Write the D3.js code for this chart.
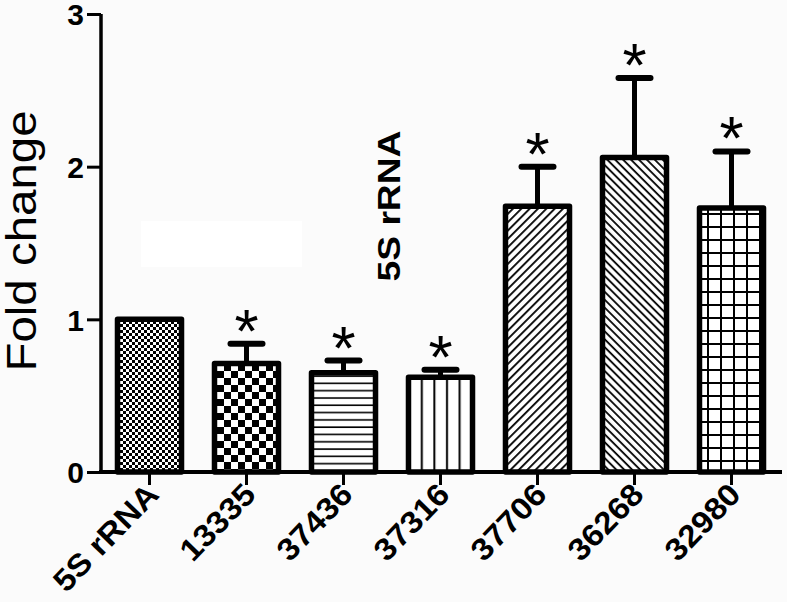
<html>
<head>
<script src="https://d3js.org/d3.v7.min.js"></script>
<style>
body { margin: 0; background: #fbfbfb; }
svg { display: block; font-family: Arial, 'Liberation Sans', sans-serif; }
</style>
</head>
<body>
<svg width="787" height="602"></svg>
<script>
// data
var categories = ["5S rRNA", "13335", "37436", "37316", "37706", "36268", "32980"];
var means = [1.00, 0.71, 0.65, 0.62, 1.74, 2.06, 1.73];
var errors = [0, 0.13, 0.08, 0.05, 0.26, 0.52, 0.37];
var starred = [false, true, true, true, true, true, true];
var fills = ["fineCheck", "bigCheck", "hLines", "vLines", "diagUp", "diagDown", "grid"];
var yTicks = [0, 1, 2, 3];

var svg = d3.select("svg");
svg.append("rect").attr("width", 787).attr("height", 602).attr("fill", "#fbfbfb");
// blank patch left over in the original image
svg.append("rect").attr("x", 141).attr("y", 221).attr("width", 161).attr("height", 46).attr("fill", "#fff");

var x = d3.scaleBand().domain(categories).range([101, 780]).paddingInner(0.34).paddingOuter(0.17);
var y = d3.scaleLinear().domain([0, 3]).range([472, 14]);

// hatch patterns
var defs = svg.append("defs");
function pat(id, w, h, transform) {
  var p = defs.append("pattern").attr("id", id).attr("patternUnits", "userSpaceOnUse")
    .attr("width", w).attr("height", h);
  if (transform) p.attr("patternTransform", transform);
  p.append("rect").attr("width", w).attr("height", h).attr("fill", "#fff");
  return p;
}
var p = pat("fineCheck", 6, 6);
p.append("rect").attr("width", 3).attr("height", 3).attr("fill", "#000");
p.append("rect").attr("x", 3).attr("y", 3).attr("width", 3).attr("height", 3).attr("fill", "#000");
p = pat("bigCheck", 14, 14);
p.append("rect").attr("width", 7).attr("height", 7).attr("fill", "#000");
p.append("rect").attr("x", 7).attr("y", 7).attr("width", 7).attr("height", 7).attr("fill", "#000");
p = pat("hLines", 10, 7.3);
p.append("rect").attr("y", 3).attr("width", 10).attr("height", 1.6).attr("fill", "#000");
p = pat("vLines", 12.6, 10);
p.append("rect").attr("x", 5).attr("width", 2).attr("height", 10).attr("fill", "#000");
p = pat("diagUp", 5.9, 10, "rotate(45)");
p.append("rect").attr("x", 2).attr("width", 1.8).attr("height", 10).attr("fill", "#000");
p = pat("diagDown", 5.6, 10, "rotate(-45)");
p.append("rect").attr("x", 2).attr("width", 1.8).attr("height", 10).attr("fill", "#000");
p = pat("grid", 13, 13);
p.append("rect").attr("x", 5).attr("width", 2).attr("height", 13).attr("fill", "#000");
p.append("rect").attr("y", 5).attr("width", 13).attr("height", 2).attr("fill", "#000");

var rows = categories.map(function (c, i) {
  return { name: c, mean: means[i], err: errors[i], star: starred[i], fill: fills[i] };
});

// error bars
var eb = svg.selectAll("g.err").data(rows.filter(function (d) { return d.err > 0; }))
  .enter().append("g").attr("class", "err");
eb.append("line")
  .attr("x1", function (d) { return x(d.name) + x.bandwidth() / 2; })
  .attr("x2", function (d) { return x(d.name) + x.bandwidth() / 2; })
  .attr("y1", function (d) { return y(d.mean); })
  .attr("y2", function (d) { return y(d.mean + d.err); })
  .attr("stroke", "#000").attr("stroke-width", 5);
eb.append("line")
  .attr("x1", function (d) { return x(d.name) + x.bandwidth() / 2 - 16; })
  .attr("x2", function (d) { return x(d.name) + x.bandwidth() / 2 + 16; })
  .attr("y1", function (d) { return y(d.mean + d.err); })
  .attr("y2", function (d) { return y(d.mean + d.err); })
  .attr("stroke", "#000").attr("stroke-width", 6).attr("stroke-linecap", "round");

// bars
svg.selectAll("rect.bar").data(rows).enter().append("rect").attr("class", "bar")
  .attr("x", function (d) { return x(d.name); })
  .attr("width", x.bandwidth())
  .attr("y", function (d) { return y(d.mean); })
  .attr("height", function (d) { return y(0) - y(d.mean); })
  .attr("fill", function (d) { return "url(#" + d.fill + ")"; })
  .attr("stroke", "#000").attr("stroke-width", 5.5).attr("stroke-linejoin", "round");

// significance stars
svg.selectAll("text.star").data(rows.filter(function (d) { return d.star; }))
  .enter().append("text").attr("class", "star")
  .attr("x", function (d) { return x(d.name) + x.bandwidth() / 2; })
  .attr("y", function (d) { return y(d.mean + d.err) + 8; })
  .attr("text-anchor", "middle").attr("font-size", 62).text("*");

// y axis
var yAxis = svg.append("g").attr("transform", "translate(101,0)")
  .call(d3.axisLeft(y).tickValues(yTicks).tickFormat(d3.format("d")).tickSize(14).tickPadding(3));
yAxis.select(".domain").attr("d", "M0," + y(3) + "V" + y(0)).attr("stroke-width", 3.5);
yAxis.selectAll(".tick line").attr("stroke-width", 3);
yAxis.selectAll(".tick text").attr("font-size", 30).attr("font-weight", "bold")
  .attr("font-family", "Arial, 'Liberation Sans', sans-serif").attr("fill", "#000")
  .attr("dy", "0.36em");

// x axis
var xAxis = svg.append("g").attr("transform", "translate(0," + y(0) + ")")
  .call(d3.axisBottom(x).tickSize(13).tickSizeOuter(0));
xAxis.select(".domain").attr("d", "M99,0H782").attr("stroke-width", 4);
xAxis.selectAll(".tick line").attr("stroke-width", 3);
xAxis.selectAll(".tick text")
  .attr("font-size", 31).attr("font-weight", "bold").attr("fill", "#000")
  .attr("font-family", "Arial, 'Liberation Sans', sans-serif")
  .attr("text-anchor", "end").attr("y", 0).attr("dy", 0)
  .attr("transform", "translate(11,24) rotate(-46) scale(1.08,1)");

// axis title
svg.append("text")
  .attr("transform", "translate(36,241) rotate(-90) scale(1.13,1)")
  .attr("text-anchor", "middle").attr("font-size", 42).text("Fold change");

// label inside the plot
svg.append("text")
  .attr("transform", "translate(400,206) rotate(-90) scale(1.2,1)")
  .attr("text-anchor", "middle").attr("font-size", 31).attr("font-weight", "bold").text("5S rRNA");
</script>
</body>
</html>
